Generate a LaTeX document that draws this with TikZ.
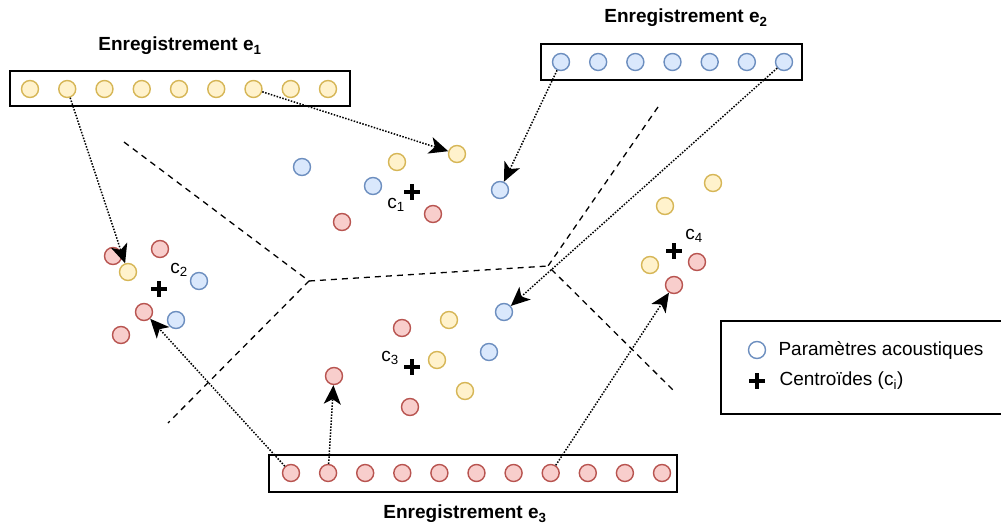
\documentclass[tikz,border=0pt]{standalone}
\usepackage{fontspec}
\setmainfont{Liberation Sans}
\usetikzlibrary{arrows.meta}

\definecolor{jauneF}{HTML}{FFF2CC}
\definecolor{jauneT}{HTML}{D6B656}
\definecolor{bleuF}{HTML}{DAE8FC}
\definecolor{bleuT}{HTML}{6C8EBF}
\definecolor{rougeF}{HTML}{F8CECC}
\definecolor{rougeT}{HTML}{B85450}

\tikzset{
  pt/.style={circle, line width=1.4pt, minimum size=17pt, inner sep=0pt},
  pj/.style={pt, draw=jauneT, fill=jauneF},
  pb/.style={pt, draw=bleuT, fill=bleuF},
  pr/.style={pt, draw=rougeT, fill=rougeF},
  croix/.style={minimum size=16pt, inner sep=0pt,
    path picture={\draw[line width=3.2pt]
      (path picture bounding box.north) -- (path picture bounding box.south)
      (path picture bounding box.west) -- (path picture bounding box.east);}},
  fleche/.style={-{Stealth[length=19pt,width=17pt,inset=5pt]}, dash pattern=on 1.5pt off 1.5pt, line width=1.5pt},
  frontiere/.style={dash pattern=on 6pt off 5pt, line width=1.3pt},
  cadre/.style={draw, line width=1.5pt, inner sep=0pt},
  titre/.style={font=\bfseries\fontsize{19}{22}\selectfont},
  etiq/.style={font=\fontsize{19}{22}\selectfont}
}

\begin{document}
\begin{tikzpicture}[x=1pt, y=-1pt]
\useasboundingbox (0,0) rectangle (1001,527);

% enregistrements
\node[cadre, minimum width=340pt, minimum height=35pt] (r1) at (180,88.5) {};
\node[cadre, minimum width=261pt, minimum height=36pt] (r2) at (671.5,62) {};
\node[cadre, minimum width=408pt, minimum height=37pt] (r3) at (473,473.5) {};
\foreach \i in {1,...,9} \node[pj] (e1-\i) at ({30+37.25*(\i-1)},89) {};
\foreach \i in {1,...,7} \node[pb] (e2-\i) at ({561+37.17*(\i-1)},62) {};
\foreach \i in {1,...,11} \node[pr] (e3-\i) at ({291+37.1*(\i-1)},473) {};
\node[titre] (t1) at (180,46) {Enregistrement e\textsubscript{1}};
\node[titre] (t2) at (686,18) {Enregistrement e\textsubscript{2}};
\node[titre] (t3) at (465,514) {Enregistrement e\textsubscript{3}};

% frontieres
\coordinate (v1) at (309,281);
\coordinate (v2) at (548,266);
\coordinate (f1) at (124,142);
\coordinate (f2) at (168,423);
\coordinate (f3) at (658,107);
\coordinate (f4) at (673,390);
\draw[frontiere] (f1) -- (v1) -- (f2);
\draw[frontiere] (v1) -- (v2);
\draw[frontiere] (f3) -- (v2) -- (f4);

% classe 1
\node[pb] (b1a) at (302,167) {};
\node[pj] (j1a) at (397,162) {};
\node[pj] (j1b) at (457,154) {};
\node[pb] (b1b) at (373,186) {};
\node[pr] (r1a) at (342,222) {};
\node[pr] (r1b) at (433,214) {};
\node[pb] (b1c) at (500,190) {};
\node[croix] (c1) at (412,192) {};
\node[etiq] (l1) at (396,205) {c\textsubscript{1}};

% classe 2
\node[pr] (r2a) at (113,256) {};
\node[pr] (r2b) at (160,249) {};
\node[pj] (j2a) at (128,272) {};
\node[pb] (b2a) at (199,281) {};
\node[pr] (r2c) at (144,312) {};
\node[pb] (b2b) at (176,320) {};
\node[pr] (r2d) at (121,335) {};
\node[croix] (c2) at (159,289) {};
\node[etiq] (l2) at (179,270) {c\textsubscript{2}};

% classe 3
\node[pb] (b3a) at (504,312) {};
\node[pj] (j3a) at (449,320) {};
\node[pr] (r3a) at (402,328) {};
\node[pb] (b3b) at (489,352) {};
\node[pj] (j3b) at (437,360) {};
\node[pr] (r3b) at (334,376) {};
\node[pj] (j3c) at (465,391) {};
\node[pr] (r3c) at (410,407) {};
\node[croix] (c3) at (412,367) {};
\node[etiq] (l3) at (390,358) {c\textsubscript{3}};

% classe 4
\node[pj] (j4a) at (713,183) {};
\node[pj] (j4b) at (665,206) {};
\node[pr] (r4a) at (697,262) {};
\node[pj] (j4c) at (650,265) {};
\node[pr] (r4b) at (674,285) {};
\node[croix] (c4) at (674,251) {};
\node[etiq] (l4) at (694,236) {c\textsubscript{4}};

% correspondances
\draw[fleche] (e1-2) -- (j2a);
\draw[fleche] (e1-7) -- (j1b);
\draw[fleche] (e2-1) -- (b1c);
\draw[fleche] (e2-7) -- (b3a);
\draw[fleche] (e3-1) -- (r2c);
\draw[fleche] (e3-2) -- (r3b);
\draw[fleche] (e3-8) -- (r4b);

% legende
\node[cadre, minimum width=284pt, minimum height=93pt] (leg) at (863,367.5) {};
\node[pt, draw=bleuT, fill=white] (lp) at (757,350) {};
\node[croix] (lc) at (757,381) {};
\node[etiq, anchor=west] (lt1) at (775,350) {Paramètres acoustiques};
\node[etiq, anchor=west] (lt2) at (776,381) {Centroïdes (c\textsubscript{i})};
\end{tikzpicture}
\end{document}
